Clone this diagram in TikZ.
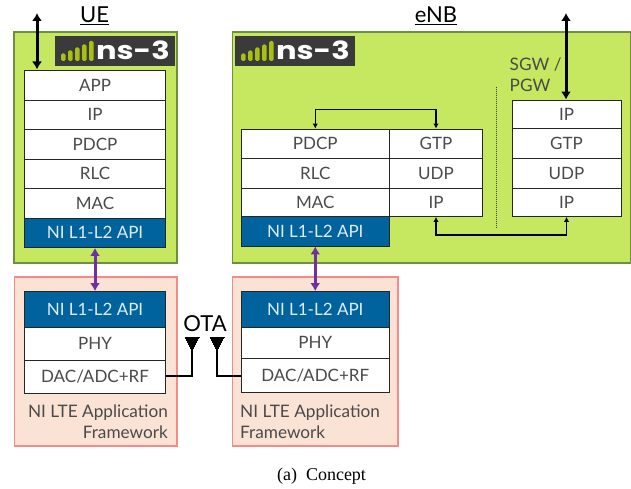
\documentclass[tikz,border=0pt]{standalone}
\usepackage{fontspec}
\usepackage{graphicx}
\setmainfont{Lato}
\newfontfamily\capfont{Liberation Serif}
\newfontfamily\logofont{Poppins}
\usetikzlibrary{arrows.meta}
\definecolor{nsgreen}{HTML}{C5E860}
\definecolor{nsedge}{HTML}{6E8F42}
\definecolor{pinkfill}{HTML}{FAE2D4}
\definecolor{pinkedge}{HTML}{F58A86}
\definecolor{niblue}{HTML}{00639E}
\definecolor{txt}{HTML}{4A4A4A}
\definecolor{purp}{HTML}{7030A0}
\definecolor{logobg}{HTML}{3A3A3A}
\definecolor{logobar}{HTML}{A9BF12}
\tikzset{
  panel/.style={draw=nsedge,fill=nsgreen,line width=1.1pt},
  pinkpanel/.style={draw=pinkedge,fill=pinkfill,line width=1.2pt},
  layerbox/.style={draw=black!85,fill=white,line width=.9pt,inner sep=0pt,text=txt,font=\fontsize{17}{20}\selectfont},
  apibox/.style={layerbox,fill=niblue,text=white!88!niblue},
  title/.style={font=\fontsize{22}{26}\selectfont,text=black,inner sep=0pt},
  note/.style={font=\fontsize{17.2}{21}\selectfont,text=txt,inner sep=0pt},
  bigarrow/.style={draw=black,line width=3pt,{Latex[length=8pt,width=10pt]}-{Latex[length=8pt,width=10pt]}},
  purparrow/.style={draw=purp,line width=3pt,{Latex[length=8pt,width=10pt]}-{Latex[length=8pt,width=10pt]}},
  thinarrow/.style={draw=black,line width=1.1pt,{Latex[length=5pt,width=5.5pt]}-{Latex[length=5pt,width=5.5pt]}},
  feed/.style={draw=black,line width=2.4pt},
  antenna/.style={draw=black,fill=black,line width=0pt},
}
% \boxnode{name}{style}{x0}{y0}{x1}{y1}{text}
\newcommand{\boxnode}[7]{%
  \pgfmathsetmacro{\bw}{#5-#3}\pgfmathsetmacro{\bh}{#6-#4}%
  \pgfmathsetmacro{\bx}{(#3+#5)/2}\pgfmathsetmacro{\by}{(#4+#6)/2}%
  \node[#2,minimum width=\bw pt,minimum height=\bh pt] (#1) at (\bx,\by) {#7};}
% \nslogo{name}{x0}{y0}
\newcommand{\nslogo}[3]{%
  \begin{scope}[shift={(#2,#3)}]
    \node[fill=logobg,minimum width=120pt,minimum height=30pt,inner sep=0pt] (#1) at (60,15) {};
    \foreach \bxx/\btop in {6/17.5,13/14.5,20/11.5,27/8.5,34/5}
      \fill[logobar,rounded corners=1.5pt] (\bxx,\btop) rectangle ++(4.6,25-\btop);
    \node[inner sep=0pt,text=white] at (78,14.5) {\scalebox{3.05}[2.5]{\logofont\bfseries ns-3}};
  \end{scope}}
\begin{document}
\begin{tikzpicture}[x=1pt,y=-1pt]
\useasboundingbox (0,0) rectangle (631,489);
% panels
\boxnode{uepanel}{panel}{14}{32}{177}{263}{}
\boxnode{enbpanel}{panel}{232.5}{32}{630.5}{263}{}
\boxnode{uefw}{pinkpanel}{14.5}{277}{177}{446}{}
\boxnode{enbfw}{pinkpanel}{232.5}{277}{398}{446}{}
% titles
\node[title] (uetitle) at (94.5,16) {\underline{UE}};
\node[title] (enbtitle) at (436,16) {\underline{eNB}};
% logos
\nslogo{uelogo}{55}{36}
\nslogo{enblogo}{235}{36}
% UE stack
\boxnode{ueapp}{layerbox}{24.5}{70.5}{165.5}{100}{APP}
\boxnode{ueip}{layerbox}{24.5}{100}{165.5}{129.5}{IP}
\boxnode{uepdcp}{layerbox}{24.5}{129.5}{165.5}{159}{PDCP}
\boxnode{uerlc}{layerbox}{24.5}{159}{165.5}{188.5}{RLC}
\boxnode{uemac}{layerbox}{24.5}{188.5}{165.5}{218}{MAC}
\boxnode{ueapi}{apibox}{24.5}{218}{165.5}{247.5}{NI L1-L2 API}
% eNB stack
\boxnode{enbpdcp}{layerbox}{241}{129}{389.5}{158}{PDCP}
\boxnode{enbrlc}{layerbox}{241}{158}{389.5}{188}{RLC}
\boxnode{enbmac}{layerbox}{241}{188}{389.5}{216.5}{MAC}
\boxnode{enbapi}{apibox}{241}{216.5}{389.5}{246}{NI L1-L2 API}
\boxnode{enbgtp}{layerbox}{389.5}{129}{482.5}{158}{GTP}
\boxnode{enbudp}{layerbox}{389.5}{158}{482.5}{188}{UDP}
\boxnode{enbip}{layerbox}{389.5}{188}{482.5}{216.5}{IP}
% SGW stack
\boxnode{sgwtop}{layerbox}{512}{100}{621}{128.5}{IP}
\boxnode{sgwgtp}{layerbox}{512}{128.5}{621}{158}{GTP}
\boxnode{sgwudp}{layerbox}{512}{158}{621}{188}{UDP}
\boxnode{sgwip}{layerbox}{512}{188}{621}{216.5}{IP}
% lower UE stack
\boxnode{lueapi}{apibox}{24.5}{291.5}{165.5}{327}{NI L1-L2 API}
\boxnode{luephy}{layerbox}{24.5}{327}{165.5}{360.5}{PHY}
\boxnode{luerf}{layerbox}{24.5}{360.5}{165.5}{393.5}{DAC/ADC+RF}
% lower eNB stack
\boxnode{lenbapi}{apibox}{241}{291.5}{389.5}{327}{NI L1-L2 API}
\boxnode{lenbphy}{layerbox}{241}{327}{389.5}{358.5}{PHY}
\boxnode{lenbrf}{layerbox}{241}{358.5}{389.5}{392.5}{DAC/ADC+RF}
% notes
\node[note,anchor=west,align=left] (sgwlabel) at (509.5,74.5) {SGW /\\PGW};
\node[note,anchor=east,align=right] (uefwlabel) at (168,421.5) {NI LTE Application\\Framework};
\node[note,anchor=west,align=left] (enbfwlabel) at (240,421.5) {NI LTE Application\\Framework};
\node[inner sep=0pt,font=\fontsize{22}{26}\selectfont,text=black] (ota) at (205,323.5) {OTA};
\node[inner sep=0pt,font=\capfont\fontsize{18}{20}\selectfont,text=black] (caption) at (321.5,476) {(a)\enspace Concept};
% free ends
\coordinate (ueext) at (37,13);
\coordinate (sgwext) at (566,13);
\coordinate (antL) at (192,337);
\coordinate (antR) at (217,337);
\coordinate (feedlevel) at (200,376);
% connectors
\draw[bigarrow] (ueext) -- (37,69.5);
\draw[bigarrow] (sgwext) -- (sgwtop.north -| sgwext);
\draw[purparrow] (ueapi.south) -- (lueapi.north);
\draw[purparrow] (enbapi.south) -- (lenbapi.north);
\draw[thinarrow] (enbpdcp.north) -- ++(0,-19) -| (enbgtp.north);
\draw[thinarrow] (enbip.south) -- ++(0,18) -| (sgwip.south);
\draw[black!75,line width=1pt,dash pattern=on 1pt off 1pt] (496,87) -- (496,228);
\draw[feed] (luerf.east |- feedlevel) -| (antL);
\draw[feed] (lenbrf.west |- feedlevel) -| (antR);
\fill[antenna] (185,337) -- (199,337) -- (192,350) -- cycle;
\fill[antenna] (210,337) -- (224,337) -- (217,350) -- cycle;
\end{tikzpicture}
\end{document}
